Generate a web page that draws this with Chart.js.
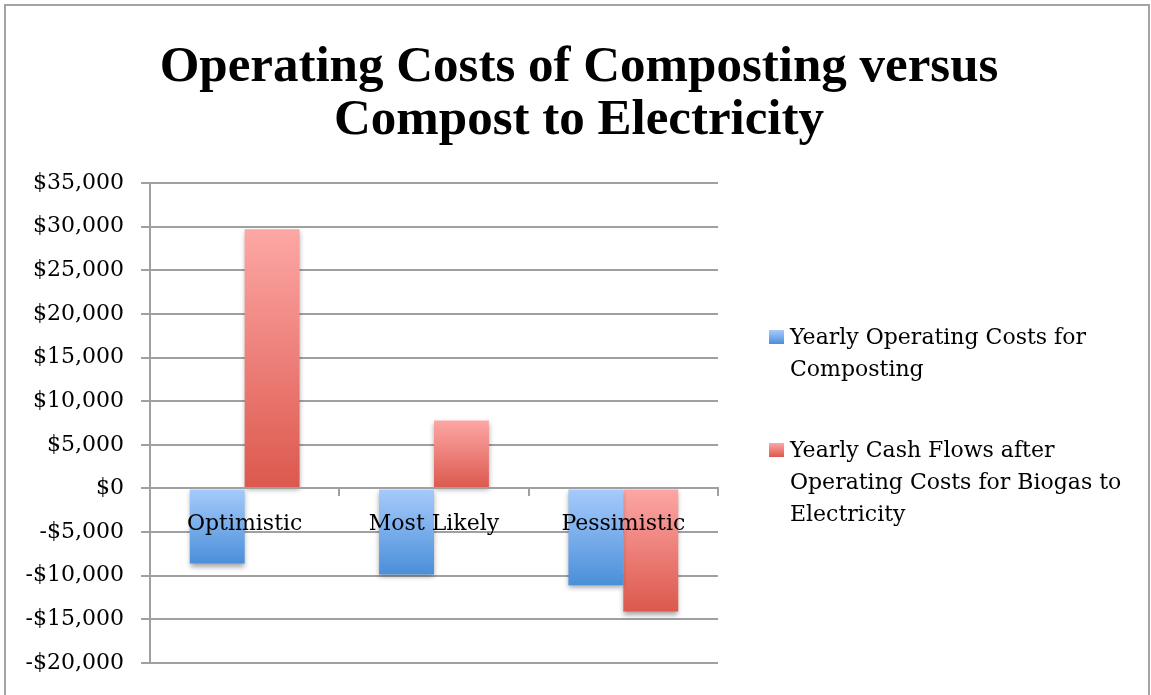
<!DOCTYPE html>
<html>
<head>
<meta charset="utf-8">
<script src="https://cdn.jsdelivr.net/npm/chart.js@4/dist/chart.umd.min.js"></script>
<style>
  html, body { margin: 0; padding: 0; background: #fff; overflow: hidden; }
  #wrap { position: relative; width: 1151px; height: 695px; }
  #frame { position: absolute; left: 4px; top: 4px; width: 1142px; height: 720px;
           border: 2px solid #a3a3a3; pointer-events: none; }
</style>
</head>
<body>
<div id="wrap">
  <canvas id="custosChart" width="1151" height="695"></canvas>
  <div id="frame"></div>
</div>
<script>
// dados
const cenarios = ["Optimistic", "Most Likely", "Pessimistic"];
const custosCompostagem = [-8600, -9850, -11100];
const fluxoBiogas = [29700, 7800, -14100];
const nomesSeries = [
    "Yearly Operating Costs for Composting",
    "Yearly Cash Flows after Operating Costs for Biogas to Electricity"
];
const linhasLegenda = [
    ["Yearly Operating Costs for", "Composting"],
    ["Yearly Cash Flows after", "Operating Costs for Biogas to", "Electricity"]
];
const tituloLinhas = ["Operating Costs of Composting versus", "Compost to Electricity"];
const eixoMin = -20000;
const eixoMax = 35000;
const eixoPasso = 5000;

const cores = [
    { topo: "#a7cbfc", base: "#4a8fd9" },
    { topo: "#fda7a5", base: "#dc584d" }
];
const corGrade = "#a0a0a0";
const fonteSerif = "'DejaVu Serif', serif";

function formatarDolar(v) {
    const s = "$" + Math.abs(v).toLocaleString("en-US");
    return v < 0 ? "-" + s : s;
}

// gradiente vertical de cada barra, claro em cima e escuro em baixo
function gradienteBarra(context, i) {
    const chart = context.chart;
    const escala = chart.scales.y;
    if (!chart.chartArea || !escala || context.raw === undefined) return cores[i].base;
    const yValor = escala.getPixelForValue(context.raw);
    const yZero = escala.getPixelForValue(0);
    const topo = Math.min(yValor, yZero);
    const fundo = Math.max(yValor, yZero);
    const g = chart.ctx.createLinearGradient(0, topo, 0, fundo);
    g.addColorStop(0, cores[i].topo);
    g.addColorStop(1, cores[i].base);
    return g;
}

// sombra suave embaixo das barras
const sombraPlugin = {
    id: "sombraBarras",
    beforeDatasetsDraw(chart) {
        const ctx = chart.ctx;
        ctx.save();
        ctx.shadowColor = "rgba(0,0,0,0.35)";
        ctx.shadowBlur = 5;
        ctx.shadowOffsetY = 3;
    },
    afterDatasetsDraw(chart) {
        chart.ctx.restore();
    }
};

// legenda à direita com texto em várias linhas
const legendaPlugin = {
    id: "legendaLateral",
    afterDraw(chart) {
        const ctx = chart.ctx;
        const x0 = 769;
        const inicioY = [338, 451];
        const alturaLinha = 32;
        ctx.save();
        ctx.font = "22px " + fonteSerif;
        ctx.textBaseline = "middle";
        linhasLegenda.forEach((linhas, i) => {
            const y = inicioY[i];
            const g = ctx.createLinearGradient(0, y - 8, 0, y + 6);
            g.addColorStop(0, cores[i].topo);
            g.addColorStop(1, cores[i].base);
            ctx.fillStyle = g;
            ctx.fillRect(x0, y - 8, 15, 14);
            ctx.fillStyle = "#000";
            linhas.forEach((t, j) => ctx.fillText(t, x0 + 21, y + j * alturaLinha));
        });
        ctx.restore();
    }
};

const ctx = document.getElementById("custosChart").getContext("2d");

new Chart(ctx, {
    type: "bar",
    data: {
        labels: cenarios,
        datasets: [
            { label: nomesSeries[0], data: custosCompostagem, backgroundColor: c => gradienteBarra(c, 0), borderWidth: 0 },
            { label: nomesSeries[1], data: fluxoBiogas, backgroundColor: c => gradienteBarra(c, 1), borderWidth: 0 }
        ]
    },
    options: {
        responsive: false,
        animation: false,
        events: [],
        categoryPercentage: 0.58,
        barPercentage: 1,
        layout: { padding: { left: 7, right: 0, top: 0, bottom: 32 } },
        plugins: {
            legend: { display: false },
            tooltip: { enabled: false },
            title: {
                display: true,
                text: tituloLinhas,
                color: "#000",
                font: { family: "'Liberation Serif', serif", size: 51, weight: "bold", lineHeight: 1.04 },
                padding: { top: 41, bottom: 36 }
            }
        },
        scales: {
            x: {
                position: { y: 0 },
                grid: { drawOnChartArea: false, drawTicks: true, tickLength: 7, color: corGrade, lineWidth: 2, z: 1 },
                border: { color: corGrade, width: 2, z: 1 },
                ticks: { color: "#000", font: { family: fonteSerif, size: 22 }, padding: 16, z: 1 }
            },
            y: {
                min: eixoMin,
                max: eixoMax,
                grid: { color: corGrade, lineWidth: 2, tickLength: 9 },
                border: { color: corGrade, width: 2 },
                ticks: {
                    stepSize: eixoPasso,
                    color: "#000",
                    font: { family: fonteSerif, size: 22 },
                    padding: 17,
                    callback: v => formatarDolar(v)
                },
                afterFit(scale) { scale.width = 143; }
            },
            espaco: {
                position: "right",
                display: true,
                grid: { display: false },
                border: { display: false },
                ticks: { display: false },
                afterFit(scale) { scale.width = 433; }
            }
        }
    },
    plugins: [sombraPlugin, legendaPlugin]
});
</script>
</body>
</html>
